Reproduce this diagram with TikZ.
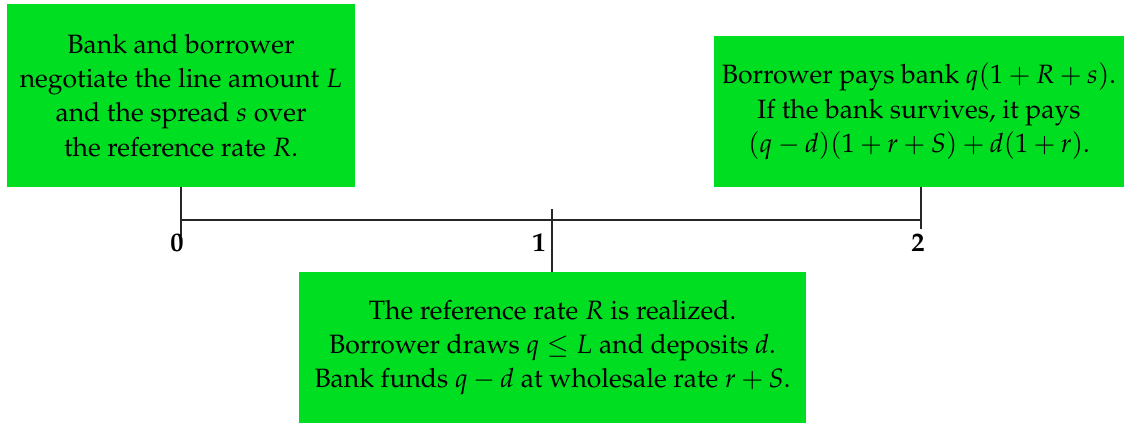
\documentclass[tikz,border=0pt]{standalone}
\usepackage[T1]{fontenc}
\usepackage{mathpazo}
\definecolor{boxgreen}{RGB}{0,222,34}
\begin{document}
\begin{tikzpicture}[x=0.4pt,y=-0.4pt,
  evbox/.style={rectangle,fill=boxgreen,draw=none,align=center,inner sep=0pt,
    font=\fontsize{10.6}{13.7}\selectfont},
  tickline/.style={line width=0.6pt,draw=black!85},
  ticklabel/.style={inner sep=0pt,font=\fontsize{10.6}{12}\selectfont\bfseries}]
\useasboundingbox (0,0) rectangle (1124,423);
% boxes
\node[evbox,minimum width=348*0.4pt,minimum height=183*0.4pt] (left) at (181,95.5)
  {Bank and borrower\\negotiate the line amount $L$\\and the spread $s$ over\\the reference rate $R$.};
\node[evbox,minimum width=410*0.4pt,minimum height=151*0.4pt] (right) at (919,111.5)
  {Borrower pays bank $q(1+R+s)$.\\If the bank survives, it pays\\$(q-d)(1+r+S)+d(1+r)$.};
\node[evbox,minimum width=507*0.4pt,minimum height=151*0.4pt] (mid) at (552.5,347.5)
  {The reference rate $R$ is realized.\\Borrower draws $q\le L$ and deposits $d$.\\Bank funds $q-d$ at wholesale rate $r+S$.};
% timeline
\coordinate (t0) at (181,220);
\coordinate (t1) at (552,220);
\coordinate (t2) at (921,220);
\coordinate (t0a) at (181,187);
\coordinate (t0b) at (181,236);
\coordinate (t1a) at (552,209);
\coordinate (t2a) at (921,187);
\coordinate (t2b) at (921,229);
\draw[tickline] (t0) -- (t2);
\draw[tickline] (t0a) -- (t0b);
\draw[tickline] (t1a) -- (t1a |- mid.north);
\draw[tickline] (t2a) -- (t2b);
\node[ticklabel] (l0) at (177,243) {0};
\node[ticklabel] (l1) at (539,243) {1};
\node[ticklabel] (l2) at (918,243) {2};
\end{tikzpicture}
\end{document}
